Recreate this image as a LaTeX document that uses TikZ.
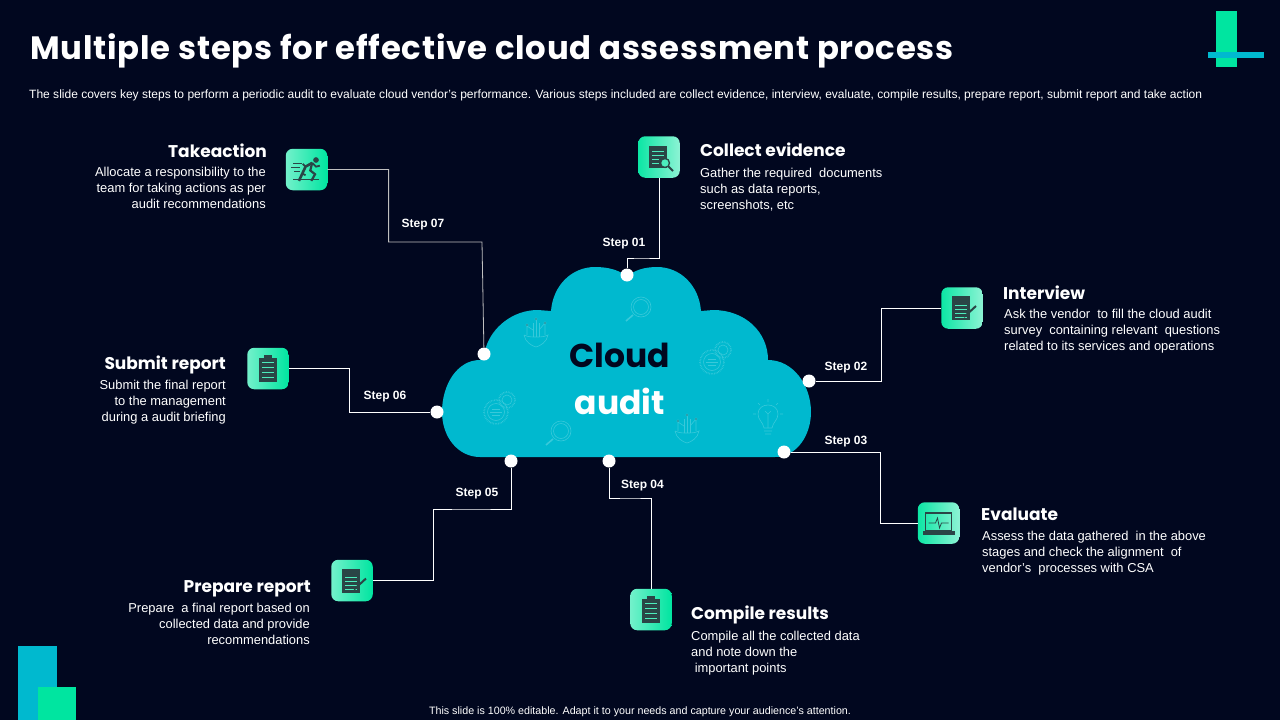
\documentclass[tikz,border=0pt]{standalone}
\usepackage{fontspec}
\setmainfont{Liberation Sans}
\newfontfamily\headfont{Poppins}
\usetikzlibrary{calc}
\definecolor{bgcol}{HTML}{01071F}
\definecolor{cloudcol}{HTML}{00B9CF}
\definecolor{mintcol}{HTML}{00E5A0}
\definecolor{inkcol}{HTML}{2A4546}
\definecolor{ghostcol}{HTML}{38C9DA}
\begin{document}
\begin{tikzpicture}[x=1pt, y=-1pt,
	iconbox/.style = {rounded corners=7pt, minimum size=41.5pt, inner sep=0pt, left color=#1!55!white, right color=#1},
	iconback/.style = {rounded corners=7pt, minimum size=41.5pt, inner sep=0pt, left color=mintcol!95!white, right color=mintcol!45!white},
	dot/.style = {draw=none, fill=white, circle, minimum size=13pt, inner sep=0pt},
	wire/.style = {draw=white, line width=0.8pt},
	steplabel/.style = {text=white, font=\fontsize{12}{14}\selectfont\bfseries, inner sep=0pt},
	heading/.style = {text=white, font=\headfont\fontsize{17}{20}\selectfont\bfseries, inner sep=0pt},
	bodyleft/.style = {text=white, font=\fontsize{12.9}{16}\selectfont, align=left, anchor=north west, inner sep=0pt},
	bodyright/.style = {text=white, font=\fontsize{12.9}{16}\selectfont, align=right, anchor=north east, inner sep=0pt},
	ghost/.style = {draw=ghostcol, line width=0.6pt},
	magnifier/.pic = {
		\draw[ghost] (5,-3) circle (10);
		\draw[ghost] (5,-3) circle (7.5);
		\draw[ghost, line width=1.6pt] (-3,5) -- (-10,11);
	},
	sprout/.pic = {
		\draw[ghost] (-12,3) .. controls (-8,5) and (-4,5) .. (0,5) .. controls (4,5) and (8,5) .. (12,3) .. controls (11,10) and (4,14) .. (0,15) .. controls (-4,14) and (-11,10) .. (-12,3);
		\draw[ghost] (-3,5) -- (-3,-9) (3,5) -- (3,-9) (0,5) -- (0,-13);
		\draw[ghost] (-9,3) -- (-9,-6) -- (-3,-2) (9,3) -- (9,-9) -- (3,-2);
		\fill[ghost] (0,-13) circle (1.2) (-9,-7) circle (1.2) (9,-9) circle (1.2);
	},
	gears/.pic = {
		\draw[ghost, densely dotted, line width=1.6pt] (-2,6) circle (12);
		\draw[ghost] (-2,6) circle (8.5);
		\draw[ghost] (-8,6) -- (4,6) (-6,3) -- (2,3) (-6,9) -- (2,9);
		\draw[ghost, densely dotted, line width=1.6pt] (9,-6) circle (8);
		\draw[ghost] (9,-6) circle (5);
	},
	bulb/.pic = {
		\draw[ghost] (-4,11) .. controls (-5,5) and (-10,3) .. (-10,-3) .. controls (-10,-9) and (-5,-12) .. (0,-12) .. controls (5,-12) and (10,-9) .. (10,-3) .. controls (10,3) and (5,5) .. (4,11) -- cycle;
		\draw[ghost] (-4,14) -- (4,14) (-3,17) -- (3,17) (0,11) -- (0,-3) (-3,-6) -- (0,-3) -- (3,-6);
		\draw[ghost] (-15,-3) -- (-12,-3) (15,-3) -- (12,-3) (0,-18) -- (0,-15) (-10,-14) -- (-8,-12) (10,-14) -- (8,-12);
	},
	runner/.pic = {
		\fill[inkcol] (10,-10) circle (3);
		\draw[inkcol, line width=2.6pt] (6,-7) -- (-1,-3) -- (-8,12);
		\draw[inkcol, line width=2.2pt] (6,-7) -- (4,1) -- (9,5) -- (5,12);
		\draw[inkcol, line width=1.8pt] (-1,-3) -- (-4,-6) (6,-7) -- (10,-3) -- (14,-4) (-1,6) -- (-5,4);
		\draw[inkcol, line width=1pt] (-14,-6) -- (-5,-6) (-16,-2) -- (-7,-2) (-13,2) -- (-7,2) (-14,11) -- (13,11);
	},
	clipboard/.pic = {
		\fill[inkcol] (-9,-11) rectangle (9,13);
		\fill[inkcol] (-4,-14) rectangle (4,-10);
		\draw[mintcol!70!white, line width=0.5pt] (-6,-6) -- (6,-6) (-6,-1) -- (6,-1) (-6,4) -- (6,4) (-6,9) -- (6,9);
	},
	lens/.pic = {
		\fill[inkcol] (-10,-11) rectangle (8,11);
		\draw[mintcol!70!white, line width=0.5pt] (-7,-6) -- (5,-6) (-7,-2) -- (5,-2) (-7,2) -- (0,2) (-7,6) -- (0,6);
		\draw[inkcol, fill=mintcol!70!white, line width=1.3pt] (6,6) circle (4.5);
		\draw[inkcol, line width=2pt] (9,9) -- (14,14);
	},
	pencil/.pic = {
		\fill[inkcol] (-10,-12) rectangle (8,12);
		\draw[mintcol!70!white, line width=0.5pt] (-7,-3) -- (5,-3) (-7,1) -- (5,1) (-7,5) -- (5,5) (-7,9) -- (5,9);
		\draw[inkcol, line width=2pt] (2,9) -- (14,-2);
	},
	laptop/.pic = {
		\draw[inkcol, line width=1.1pt] (-13,-10) rectangle (13,8);
		\fill[inkcol] (-16,8) rectangle (16,12);
		\draw[inkcol, line width=0.8pt] (-10,0) -- (-3,0) -- (-1,-5) -- (1,5) -- (3,0) -- (10,0);
	}]
	\useasboundingbox (0,0) rectangle (1280,720);
	\fill[bgcol] (0,0) rectangle (1280,720);

	% corner marks
	\fill[mintcol] (1216,11) rectangle (1237,67);
	\fill[cloudcol] (1208,52) rectangle (1264,58);
	\fill[cloudcol] (18,646) rectangle (57,720);
	\fill[mintcol] (38,687) rectangle (76,720);

	% title
	\node[anchor=west, inner sep=0pt, text=white] (title) at (30,51) {\headfont\fontsize{32.3}{36}\selectfont\bfseries\addfontfeatures{LetterSpace=2.5}Multiple steps for effective cloud assessment process};
	\node[anchor=west, inner sep=0pt, text=white] (subtitle) at (29,95) {\fontsize{12.02}{14}\selectfont The slide covers key steps to perform a periodic audit to evaluate cloud vendor's performance. Various steps included are collect evidence, interview, evaluate, compile results, prepare report, submit report and take action};
	\node[anchor=base, inner sep=0pt, text=white] (footer) at (640,714) {\fontsize{10.7}{12}\selectfont This slide is 100\% editable.  Adapt it to your needs and capture your audience's attention.};

	% cloud
	\fill[cloudcol] (480,457) -- (775,457)
		.. controls (797,457) and (811,435) .. (811,412)
		.. controls (811,385) and (793,360) .. (768,360)
		.. controls (768,332) and (745,310) .. (713,310) -- (701,311)
		.. controls (699,285) and (680,267) .. (657,267)
		.. controls (645,267) and (634,270) .. (627,277)
		.. controls (620,270) and (608,267) .. (595,267)
		.. controls (572,267) and (553,285) .. (551,311) -- (538,310)
		.. controls (512,310) and (492,328) .. (486,347) -- (480,360)
		.. controls (457,360) and (442,385) .. (442,412)
		.. controls (442,437) and (458,457) .. (480,457) -- cycle;
	\pic at (636,310) {magnifier};
	\pic at (536,332) {sprout};
	\pic at (714,356) {gears};
	\pic at (498,406) {gears};
	\pic at (556,434) {magnifier};
	\pic at (687,428) {sprout};
	\pic at (768,417) {bulb};
	\node[inner sep=0pt, text=bgcol] (cloudword) at (620,355) {\headfont\fontsize{33}{40}\selectfont\bfseries Cloud};
	\node[inner sep=0pt, text=white] (auditword) at (620,401) {\headfont\fontsize{33}{40}\selectfont\bfseries audit};

	% icons
	\node[iconback] (collect) at (659,157) {};
	\node[iconback] (interview) at (962,308) {};
	\node[iconback] (evaluate) at (938.5,523) {};
	\node[iconbox=mintcol] (compile) at (651,609.5) {};
	\node[iconbox=mintcol] (prepare) at (352,580.5) {};
	\node[iconbox=mintcol] (submit) at (268,368.5) {};
	\node[iconbox=mintcol] (takeaction) at (306.5,169.5) {};
	\pic at (collect) {lens};
	\pic at (interview) {pencil};
	\pic at (evaluate) {laptop};
	\pic at (compile) {clipboard};
	\pic at (prepare) {pencil};
	\pic at (submit) {clipboard};
	\pic[scale=0.95] at (takeaction) {runner};

	% cloud dots
	\node[dot] (dot1) at (627,275) {};
	\node[dot] (dot2) at (809,381) {};
	\node[dot] (dot3) at (784,452) {};
	\node[dot] (dot4) at (609,461) {};
	\node[dot] (dot5) at (511,461) {};
	\node[dot] (dot6) at (437,412) {};
	\node[dot] (dot7) at (484,354) {};

	% bends
	\coordinate (bend1) at (640,258);
	\coordinate (bend2) at (881.6,340);
	\coordinate (bend3) at (880.6,490);
	\coordinate (bend4) at (630,498);
	\coordinate (bend5a) at (470,509);
	\coordinate (bend5b) at (433.6,560);
	\coordinate (bend6) at (349.6,390);
	\coordinate (bend7a) at (482,242);
	\coordinate (bend7b) at (388.6,200);

	\draw[wire] (collect) |- (bend1) -| (dot1);
	\draw[wire] (dot2) -| (bend2) |- (interview);
	\draw[wire] (dot3) -| (bend3) |- (evaluate);
	\draw[wire] (dot4) |- (bend4) -| (compile);
	\draw[wire] (dot5) |- (bend5a) -| (bend5b) |- (prepare);
	\draw[wire] (dot6) -| (bend6) |- (submit);
	\draw[wire, draw=white!75!black] (dot7) -- (bend7a) -| (bend7b) |- (takeaction);

	% step labels
	\node[steplabel] (step1) at (624,243.5) {Step 01};
	\node[steplabel] (step2) at (846,367.5) {Step 02};
	\node[steplabel] (step3) at (846,441.5) {Step 03};
	\node[steplabel] (step4) at (642.5,485.5) {Step 04};
	\node[steplabel] (step5) at (477,493.5) {Step 05};
	\node[steplabel] (step6) at (385,396.5) {Step 06};
	\node[steplabel] (step7) at (423,224.5) {Step 07};

	% text blocks
	\node[heading, anchor=west] (headcollect) at (700,150) {Collect evidence};
	\node[bodyleft] (textcollect) at (700,168) {Gather the required \ documents\\such as data reports,\\screenshots, etc};
	\node[heading, anchor=west] (headinterview) at (1003,293) {Interview};
	\node[bodyleft] (textinterview) at (1004,309) {Ask the vendor \ to fill the cloud audit\\survey \ containing relevant \ questions\\related to its services and operations};
	\node[heading, anchor=west] (headevaluate) at (981,514) {Evaluate};
	\node[bodyleft] (textevaluate) at (982,531) {Assess the data gathered \ in the above\\stages and check the alignment \ of\\vendor's \ processes with CSA};
	\node[heading, anchor=west] (headcompile) at (691,615) {Compile results};
	\node[bodyleft] (textcompile) at (691,631) {Compile all the collected data\\and note down the\\ \ important points};
	\node[heading, anchor=east] (headprepare) at (311,589) {Prepare report};
	\node[bodyright] (textprepare) at (310,603) {Prepare \ a final report based on\\collected data and provide\\recommendations};
	\node[heading, anchor=east] (headsubmit) at (226,365) {Submit report};
	\node[bodyright] (textsubmit) at (226,380) {Submit the final report\\to the management\\during a audit briefing};
	\node[heading, anchor=east] (headtake) at (267,151) {Takeaction};
	\node[bodyright] (texttake) at (266,167) {Allocate a responsibility to the\\team for taking actions as per\\audit recommendations};
\end{tikzpicture}
\end{document}
